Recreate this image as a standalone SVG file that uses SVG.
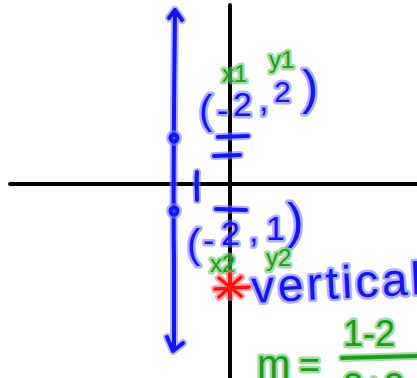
<svg xmlns="http://www.w3.org/2000/svg" width="417" height="378" viewBox="0 0 417 378">
<style>
text{font-family:"Liberation Sans","DejaVu Sans",sans-serif;paint-order:stroke;stroke-linejoin:round;stroke-linecap:round}
.tb{fill:#1414f5;stroke:#6a6aff;stroke-opacity:.55;stroke-width:5}
.tg{fill:#1f9a1f;stroke:#66c866;stroke-opacity:.6;stroke-width:5}
.ax{stroke:#000;stroke-width:4;fill:none;stroke-linecap:round}
.hb{stroke:#7b7bff;stroke-opacity:.6;stroke-width:8;fill:none;stroke-linecap:round;stroke-linejoin:round}
.cb{stroke:#1414f5;stroke-width:4;fill:none;stroke-linecap:round;stroke-linejoin:round}
.hr{stroke:#ff7070;stroke-opacity:.6;stroke-width:8;fill:none;stroke-linecap:round}
.cr{stroke:#ff1010;stroke-width:3.5;fill:none;stroke-linecap:round}
.hg{stroke:#66c866;stroke-opacity:.6;stroke-width:8;fill:none;stroke-linecap:round}
.cg{stroke:#1f9a1f;stroke-width:4;fill:none;stroke-linecap:round}
</style>
<defs>
<path id="bline" d="M175,10 C174,100 173,200 174,260 C174,300 174,330 174,350 M169,18 L175,10 L182,20 M167,337 L173,351 L183,343"/>
<path id="bmarks" d="M218,137 L248,136 M214,156 L240,155 M216,209 L246,210 M197,172 C196,182 197,192 197,200"/>
<path id="ast" d="M215,289 L249,287 M230,274 L230,297 M219,278 L241,296 M241,277 L219,297"/>
<path id="frac" d="M342,358 L417,356"/>
</defs>
<g id="axes">
<path class="ax" d="M10,184 L417,184"/>
<path class="ax" d="M230,5 L230,378"/>
</g>
<g id="connectors">
<use href="#bline" class="hb"/>
<use href="#bline" class="cb"/>
<circle cx="174" cy="138" r="4" class="hb"/>
<circle cx="174" cy="138" r="3.5" class="cb"/>
<circle cx="174" cy="211" r="4" class="hb"/>
<circle cx="174" cy="211" r="3.5" class="cb"/>
<use href="#bmarks" class="hb"/>
<use href="#bmarks" class="cb"/>
</g>
<g id="point1">
<text class="tb" x="199" y="124" font-size="40">(</text>
<text class="tb" x="217" y="122" font-size="34">-</text>
<text class="tb" x="233" y="116" font-size="34">2</text>
<text class="tb" x="259" y="111" font-size="34">,</text>
<text class="tb" x="274" y="102" font-size="30">2</text>
<text class="tb" x="302" y="104" font-size="48">)</text>
<text class="tg" x="222" y="82" font-size="24">x1</text>
<text class="tg" x="269" y="68" font-size="24">y1</text>
</g>
<g id="point2">
<text class="tb" x="187" y="258" font-size="40">(</text>
<text class="tb" x="203" y="252" font-size="34">-</text>
<text class="tb" x="221" y="245" font-size="34">2</text>
<text class="tb" x="249" y="242" font-size="34">,</text>
<text class="tb" x="266" y="240" font-size="34">1</text>
<text class="tb" x="287" y="238" font-size="50">)</text>
<text class="tg" x="210" y="272" font-size="24">x2</text>
<text class="tg" x="266" y="266" font-size="24">y2</text>
</g>
<g id="star">
<use href="#ast" class="hr"/>
<use href="#ast" class="cr"/>
</g>
<g id="label">
<text class="tb" x="252" y="303" font-size="46" textLength="170" lengthAdjust="spacing" transform="rotate(-3 252 303)">vertical</text>
</g>
<g id="slope">
<text class="tg" x="257" y="378" font-size="40">m</text>
<text class="tg" x="299" y="377" font-size="36">=</text>
<text class="tg" x="343" y="346" font-size="36">1-2</text>
<use href="#frac" class="hg"/>
<use href="#frac" class="cg"/>
<text class="tg" x="343" y="399" font-size="36">2+2</text>
</g>
</svg>
